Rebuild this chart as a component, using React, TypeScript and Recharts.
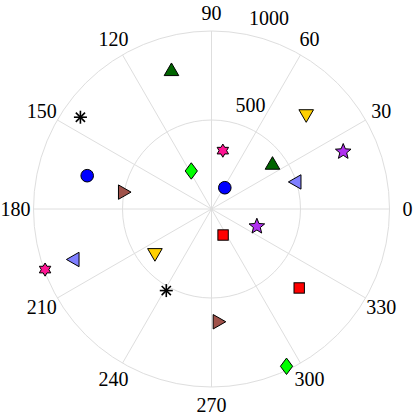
import React from 'react';
import {
  RadarChart,
  Radar,
  PolarGrid,
  PolarAngleAxis,
  PolarRadiusAxis,
  ScatterChart,
  Scatter,
  XAxis,
  YAxis,
} from 'recharts';

// ---- data ----
const angleTicks = [0, 30, 60, 90, 120, 150, 180, 210, 240, 270, 300, 330];
const radialDomain = [0, 1000];
const radialTicks = [0, 500, 1000];

const circleR = [141, 723];
const circleTheta = [58, 165];
const squareR = [160, 663];
const squareTheta = [294, 318];
const diamondR = [242, 979];
const diamondTheta = [118, 295.5];
const triUpR = [429, 816];
const triUpTheta = [37, 106];
const triDownR = [746, 409];
const triDownTheta = [44.5, 219];
const triLeftR = [492, 829];
const triLeftTheta = [18, 200];
const triRightR = [497, 635];
const triRightTheta = [169, 274];
const hexagramR = [334, 995];
const hexagramTheta = [79, 200];
const starR = [807, 273];
const starTheta = [23.5, 339];
const asteriskR = [899, 524];
const asteriskTheta = [145, 241];

const seriesDefs = [
  { name: 'circle', r: circleR, theta: circleTheta, symbol: 'circle', color: '#0000ff' },
  { name: 'square', r: squareR, theta: squareTheta, symbol: 'square', color: '#ff0000' },
  { name: 'diamond', r: diamondR, theta: diamondTheta, symbol: 'diamond', color: '#00ff00' },
  { name: 'triangle-up', r: triUpR, theta: triUpTheta, symbol: 'triangle-up', color: '#006400' },
  { name: 'triangle-down', r: triDownR, theta: triDownTheta, symbol: 'triangle-down', color: '#ffd000' },
  { name: 'triangle-left', r: triLeftR, theta: triLeftTheta, symbol: 'triangle-left', color: '#7f7fff' },
  { name: 'triangle-right', r: triRightR, theta: triRightTheta, symbol: 'triangle-right', color: '#a0524a' },
  { name: 'hexagram', r: hexagramR, theta: hexagramTheta, symbol: 'hexagram', color: '#ff1493' },
  { name: 'star', r: starR, theta: starTheta, symbol: 'star', color: '#b030f0' },
  { name: 'asterisk', r: asteriskR, theta: asteriskTheta, symbol: 'asterisk', color: '#000000' },
];

const toXY = (r: number[], theta: number[]) =>
  r.map((rv, i) => ({
    x: rv * Math.cos((theta[i] * Math.PI) / 180),
    y: rv * Math.sin((theta[i] * Math.PI) / 180),
  }));

// ---- layout ----
const W = 414;
const H = 418;
const CX = 211.5;
const CY = 209;
const OUTER = 178;
const FONT = "'Liberation Serif', 'Times New Roman', serif";
const GRID = '#dedede';

const starPath = (cx: number, cy: number, n: number, ro: number, ri: number) => {
  let d = '';
  for (let i = 0; i < n * 2; i++) {
    const rr = i % 2 === 0 ? ro : ri;
    const a = -Math.PI / 2 + (i * Math.PI) / n;
    d += (i === 0 ? 'M' : 'L') + (cx + rr * Math.cos(a)).toFixed(2) + ',' + (cy + rr * Math.sin(a)).toFixed(2);
  }
  return d + 'Z';
};

const Marker = (props: any) => {
  const { cx, cy, symbol, color } = props;
  if (cx == null || cy == null) return <g />;
  const common = { fill: color, stroke: '#000', strokeWidth: 1 };
  switch (symbol) {
    case 'circle':
      return <circle cx={cx} cy={cy} r={6.3} {...common} />;
    case 'square':
      return <rect x={cx - 5.2} y={cy - 5.2} width={10.4} height={10.4} {...common} />;
    case 'diamond':
      return <path d={`M${cx},${cy - 8.2}L${cx + 6.1},${cy}L${cx},${cy + 8.2}L${cx - 6.1},${cy}Z`} {...common} />;
    case 'triangle-up':
      return <path d={`M${cx},${cy - 6.4}L${cx + 7.3},${cy + 6.2}L${cx - 7.3},${cy + 6.2}Z`} {...common} />;
    case 'triangle-down':
      return <path d={`M${cx},${cy + 6.4}L${cx + 7.3},${cy - 6.2}L${cx - 7.3},${cy - 6.2}Z`} {...common} />;
    case 'triangle-left':
      return <path d={`M${cx - 6.4},${cy}L${cx + 6.2},${cy - 7.2}L${cx + 6.2},${cy + 7.2}Z`} {...common} />;
    case 'triangle-right':
      return <path d={`M${cx + 6.4},${cy}L${cx - 6.2},${cy - 7.2}L${cx - 6.2},${cy + 7.2}Z`} {...common} />;
    case 'hexagram':
      return <path d={starPath(cx, cy, 6, 6.6, 3.8)} {...common} />;
    case 'star':
      return <path d={starPath(cx, cy, 5, 8.2, 3.6)} {...common} />;
    case 'asterisk': {
      const a = 6.5;
      const b = 4.6;
      return (
        <g stroke="#000" strokeWidth={1.6}>
          <line x1={cx - a} y1={cy} x2={cx + a} y2={cy} />
          <line x1={cx} y1={cy - a} x2={cx} y2={cy + a} />
          <line x1={cx - b} y1={cy - b} x2={cx + b} y2={cy + b} />
          <line x1={cx - b} y1={cy + b} x2={cx + b} y2={cy - b} />
        </g>
      );
    }
    default:
      return <g />;
  }
};

const AngleTick = (props: any) => {
  const { x, y, payload } = props;
  return (
    <text x={x} y={y} textAnchor="middle" dominantBaseline="central" fontFamily={FONT} fontSize={20} fill="#000">
      {payload.value}
    </text>
  );
};

const RadiusTick = (props: any) => {
  const { x, y, payload } = props;
  if (!payload || payload.value === 0) return <g />;
  return (
    <text x={x + 20.5} y={y - 17} textAnchor="middle" dominantBaseline="central" fontFamily={FONT} fontSize={20} fill="#000">
      {payload.value}
    </text>
  );
};

// axis helper table: one row per angular tick; "base" keeps the radial axis numeric
const angleData = angleTicks.map((a) => ({ angle: String(a), base: radialDomain[0] }));

export default function App() {
  return (
    <div style={{ position: 'fixed', left: 0, top: 0, width: W, height: H, background: '#fff' }}>
      <div style={{ position: 'absolute', left: 0, top: 0 }}>
        <RadarChart
          width={W}
          height={H}
          data={angleData}
          cx={CX}
          cy={CY}
          outerRadius={OUTER}
          startAngle={30}
          endAngle={390}
          margin={{ top: 0, right: 0, bottom: 0, left: 0 }}
        >
          <PolarGrid gridType="circle" stroke={GRID} strokeWidth={1} />
          <PolarAngleAxis
            dataKey="angle"
            type="category"
            axisLine={false}
            tickLine={false}
            tickSize={18}
            tick={AngleTick}
          />
          <PolarRadiusAxis
            angle={78}
            type="number"
            domain={radialDomain}
            ticks={radialTicks}
            tickCount={3}
            axisLine={false}
            tick={RadiusTick}
          />
          <Radar dataKey="base" stroke="none" fill="none" dot={false} isAnimationActive={false} />
        </RadarChart>
      </div>
      <div style={{ position: 'absolute', left: 0, top: 0 }}>
        <ScatterChart
          width={W}
          height={H}
          margin={{ top: CY - OUTER, left: CX - OUTER, right: W - CX - OUTER, bottom: H - CY - OUTER }}
        >
          <XAxis type="number" dataKey="x" domain={[-1000, 1000]} hide />
          <YAxis type="number" dataKey="y" domain={[-1000, 1000]} hide />
          {seriesDefs.map((s) => (
            <Scatter
              key={s.name}
              name={s.name}
              data={toXY(s.r, s.theta)}
              isAnimationActive={false}
              shape={(p: any) => <Marker {...p} symbol={s.symbol} color={s.color} />}
            />
          ))}
        </ScatterChart>
      </div>
    </div>
  );
}
